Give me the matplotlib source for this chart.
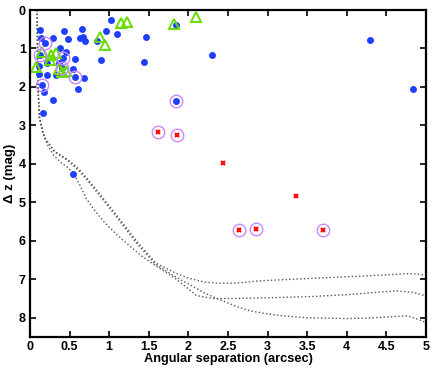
import numpy as np
import matplotlib
matplotlib.use("Agg")
import matplotlib.pyplot as plt

# ----------------------------
# Data
# ----------------------------
# blue filled dots: companion candidates
blue_sep = [0.12, 0.14, 0.19, 0.29, 0.43, 0.48, 0.66, 0.63, 0.67, 0.69, 0.85, 0.96,
            1.02, 1.10, 1.47, 0.90, 1.44, 1.84, 2.30, 4.29, 4.84, 1.84, 0.13, 0.11,
            0.11, 0.21, 0.21, 0.15, 0.18, 0.16, 0.29, 0.33, 0.38, 0.46, 0.42, 0.36,
            0.40, 0.57, 0.54, 0.68, 0.57, 0.61, 0.54]
blue_dz = [0.52, 0.73, 0.85, 0.72, 0.54, 0.76, 0.50, 0.72, 0.71, 0.80, 0.80, 0.54,
           0.26, 0.63, 0.69, 1.31, 1.34, 0.39, 1.17, 0.78, 2.05, 2.37, 1.17, 1.45,
           1.66, 1.68, 1.38, 1.94, 2.14, 2.69, 2.35, 1.68, 0.99, 1.08, 1.25, 1.38,
           1.51, 1.73, 1.54, 1.77, 1.28, 2.05, 4.25]

# green open triangles
tri_sep = [0.08, 0.15, 0.27, 0.33, 0.25, 0.36, 0.40, 0.45, 0.88, 0.95, 1.15, 1.23,
           1.82, 2.10]
tri_dz = [1.47, 1.08, 1.17, 1.12, 1.30, 1.54, 1.60, 1.58, 0.71, 0.91, 0.33, 0.32,
          0.36, 0.17]

# red crosses
red_sep = [1.62, 1.85, 2.44, 3.36, 2.64, 2.86, 3.70]
red_dz = [3.18, 3.26, 3.97, 4.84, 5.73, 5.68, 5.73]

# purple rings around selected sources
ring_sep = [0.19, 0.13, 0.15, 0.42, 0.40, 0.57, 1.84, 1.62, 1.85, 2.64, 2.86, 3.70]
ring_dz = [0.85, 1.17, 1.94, 1.25, 1.51, 1.73, 2.37, 3.18, 3.26, 5.73, 5.68, 5.73]

# contrast curves (dotted)
c1_sep = [0.09, 0.095, 0.10, 0.12, 0.18, 0.31, 0.48, 0.61, 0.73, 0.85, 1.07, 1.36,
          1.59, 1.85, 2.00, 2.20, 2.36, 2.60, 2.90, 3.50, 4.25, 4.80, 5.00]
c1_dz = [0.0, 1.0, 2.0, 2.8, 3.3, 3.67, 3.89, 4.12, 4.40, 4.70, 5.27, 6.04,
         6.58, 6.85, 6.97, 7.07, 7.10, 7.10, 7.04, 6.98, 6.91, 6.85, 6.89]
c2_sep = [0.09, 0.095, 0.10, 0.12, 0.18, 0.31, 0.48, 0.61, 0.73, 0.85, 1.07, 1.36,
          1.59, 1.85, 2.00, 2.20, 2.36, 2.60, 2.78, 3.00, 3.20, 3.50, 4.00, 4.25,
          4.50, 4.76, 4.86, 5.00]
c2_dz = [0.0, 1.0, 2.0, 2.8, 3.3, 3.69, 3.92, 4.16, 4.44, 4.75, 5.32, 6.10,
         6.62, 6.95, 7.12, 7.35, 7.50, 7.70, 7.82, 7.90, 7.95, 8.00, 8.02, 8.01,
         7.98, 7.95, 8.01, 8.12]
c3_sep = [0.09, 0.095, 0.10, 0.12, 0.16, 0.22, 0.30, 0.40, 0.48, 0.55, 0.63, 0.71,
          0.82, 0.94, 1.10, 1.24, 1.40, 1.59, 1.85, 2.00, 2.10, 2.30, 2.57, 3.00,
          3.54, 4.00, 4.25, 4.63, 4.84, 5.00]
c3_dz = [0.0, 1.0, 2.0, 2.8, 3.2, 3.5, 3.78, 3.98, 4.10, 4.25, 4.55, 4.90,
         5.22, 5.52, 5.85, 6.10, 6.38, 6.65, 7.00, 7.25, 7.42, 7.50, 7.50, 7.48,
         7.45, 7.40, 7.36, 7.30, 7.34, 7.43]

# ----------------------------
# Plot
# ----------------------------
plt.rcParams['font.family'] = ['Liberation Sans', 'DejaVu Sans']
plt.rcParams['font.weight'] = 'bold'

fig = plt.figure(figsize=(4.36, 3.68), dpi=100)
ax = fig.add_axes([0.0688, 0.0842, 0.9082, 0.8886])

for xs, ys in [(c1_sep, c1_dz), (c2_sep, c2_dz), (c3_sep, c3_dz)]:
    ax.plot(xs, ys, linestyle=':', color='#555555', lw=1.0)

ax.plot(blue_sep, blue_dz, 'o', color='#1f3fff', markersize=5, markeredgewidth=0)
ax.plot(tri_sep, tri_dz, '^', markerfacecolor='none', markeredgecolor='#66dd00',
        markersize=7, markeredgewidth=1.4)
ax.plot(red_sep, red_dz, 'x', color='#ff1010', markersize=3.5, markeredgewidth=1.6)
ax.plot(ring_sep, ring_dz, 'o', markerfacecolor='none', markeredgecolor='#cc88ff',
        markersize=9, markeredgewidth=1.0)

ax.set_xlim(0, 5)
ax.set_ylim(8.5, 0)
ax.set_xticks(np.arange(0, 5.01, 0.5))
ax.set_xticklabels(['0', '0.5', '1', '1.5', '2', '2.5', '3', '3.5', '4', '4.5', '5'])
ax.set_yticks(range(0, 9))
ax.tick_params(direction='in', top=True, right=True, length=4, width=1.2,
               labelsize=9, pad=3)
for s in ax.spines.values():
    s.set_linewidth(1.6)

ax.set_xlabel('Angular separation (arcsec)', fontsize=9.2, fontweight='bold', labelpad=0)
ax.set_ylabel('Δ z (mag)', fontsize=9.5, fontweight='bold', labelpad=2)

fig.savefig('out.png', dpi=100)
